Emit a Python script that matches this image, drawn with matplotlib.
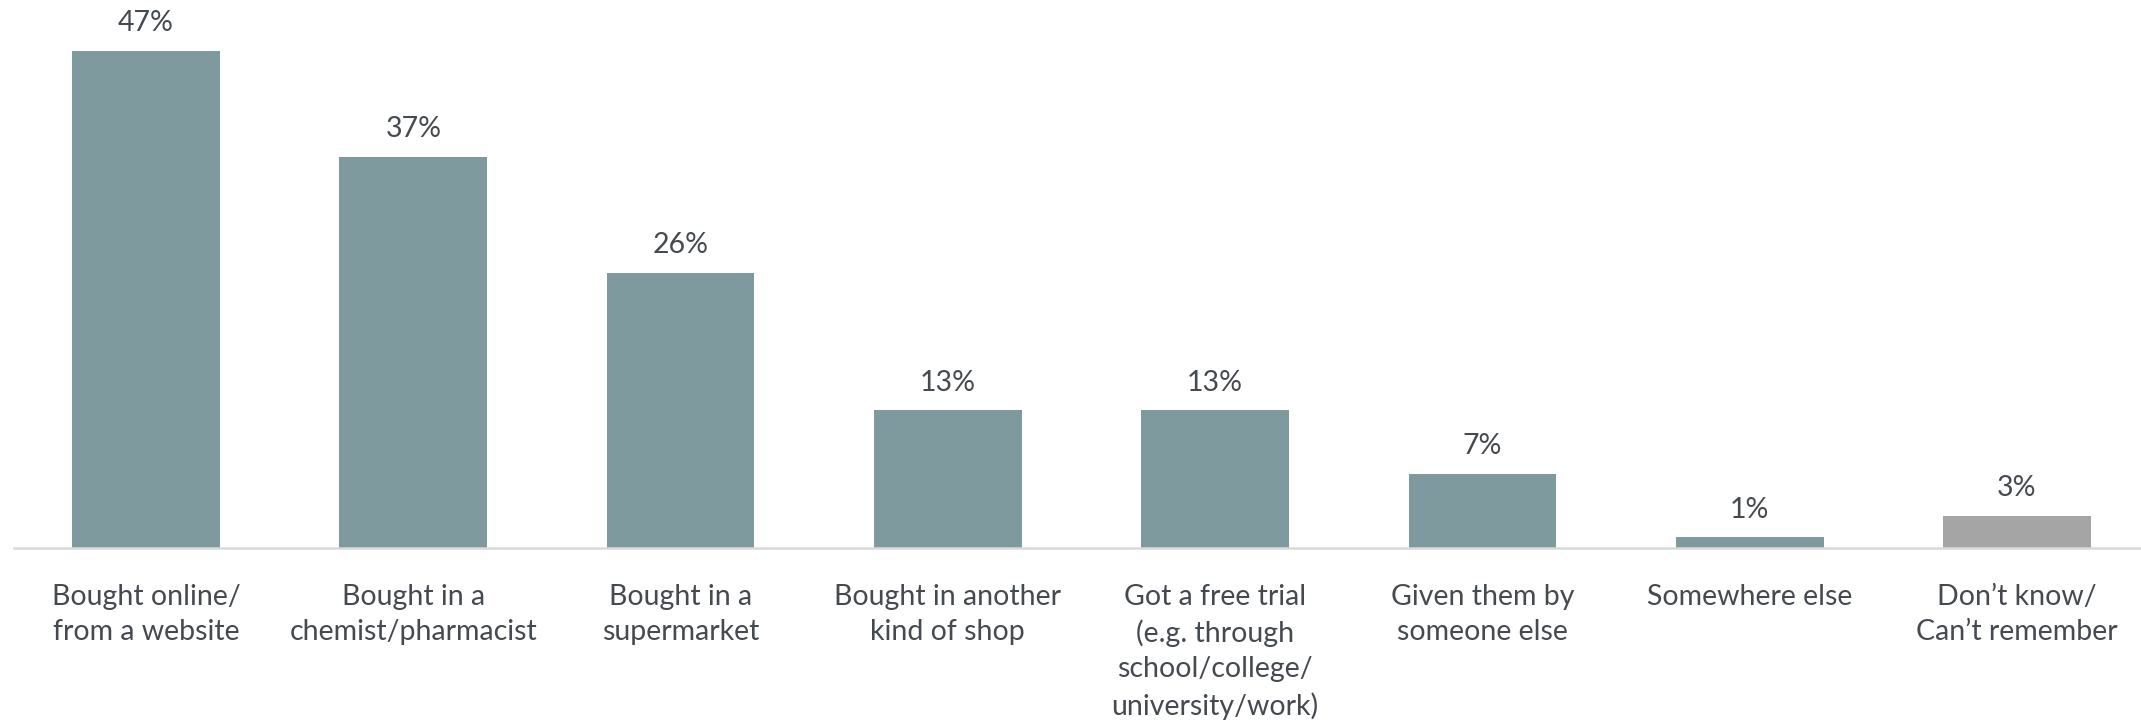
import numpy as np
import matplotlib.pyplot as plt

plt.rcParams['font.family'] = ['Lato', 'DejaVu Sans']

# where the product came from (% of respondents)
sources = [
    'Bought online/\nfrom a website',
    'Bought in a\nchemist/pharmacist',
    'Bought in a\nsupermarket',
    'Bought in another\nkind of shop',
    'Got a free trial\n(e.g. through\nschool/college/\nuniversity/work)',
    'Given them by\nsomeone else',
    'Somewhere else',
    'Don\u2019t know/\nCan\u2019t remember',
]
pct = [47, 37, 26, 13, 13, 7, 1, 3]
bar_colors = ['#7f9a9e'] * 7 + ['#a5a5a5']

text_col = '#454a50'

fig = plt.figure(figsize=(21.41, 7.24), dpi=100)
# axes span from just inside the left edge to the right edge, baseline at y=548px
ax = fig.add_axes([14 / 2141, 1 - 548 / 724, 1 - 14 / 2141, 548 / 724])

x = np.arange(len(pct))
bars = ax.bar(x, pct, width=0.553, color=bar_colors, zorder=2)

for xi, v in zip(x, pct):
    ax.annotate(f'{v}%', (xi, v), xytext=(0, 20), textcoords='offset points',
                ha='center', va='center', fontsize=20.5, color=text_col)

ax.set_xlim(-0.494, 7.464)
ax.set_ylim(0, 51.8)

ax.set_xticks(x)
ax.set_xticklabels(sources, fontsize=20.5, color=text_col, linespacing=1.43)
ax.tick_params(axis='x', length=0, pad=26)
ax.set_yticks([])

for side in ['top', 'right', 'left']:
    ax.spines[side].set_visible(False)
ax.spines['bottom'].set_color('#d9d9d9')
ax.spines['bottom'].set_linewidth(1.8)
ax.spines['bottom'].set_zorder(3)

fig.savefig('out.png', dpi=100)
